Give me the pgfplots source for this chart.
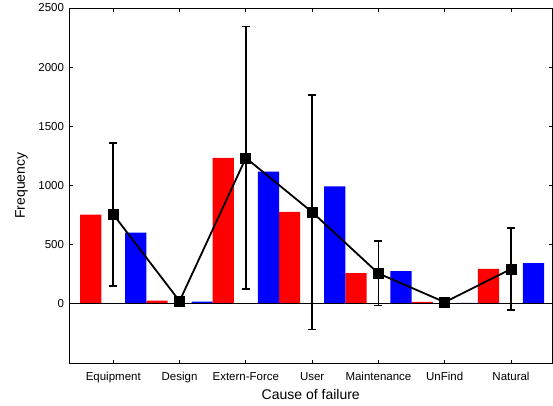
\documentclass[border=0pt]{standalone}
\usepackage{pgfplots}
\pgfplotsset{compat=1.18}
\usepackage{pgfplotstable}
\usepackage{fontspec}
\setmainfont{Liberation Sans}

\pgfplotstableread{
x red blue mean err
1 754 602 756 605
2 28 18 23 8
3 1233 1117 1233 1110
4 777 993 775 992
5 260 277 257 272
6 17 8 14 4
7 296 344 294 347
}\datatab

\begin{document}
\begin{tikzpicture}
\begin{axis}[
  at={(0,0)}, anchor=south west,
  scale only axis,
  width=483.5pt, height=355pt,
  xmin=0.332, xmax=7.626,
  ymin=-500, ymax=2500,
  xtick={1,2,3,4,5,6,7},
  xticklabels={Equipment,Design,Extern-Force,User,Maintenance,UnFind,Natural},
  ytick={0,500,1000,1500,2000,2500},
  tick align=inside,
  major tick length=3.5pt,
  tick style={black, line width=0.8pt},
  axis line style={black, line width=1pt},
  /pgf/number format/assume math mode=true,
  /pgf/number format/1000 sep={},
  ticklabel style={font=\fontsize{11.5}{13}\selectfont},
  xticklabel style={anchor=base, yshift=-17pt},
  yticklabel style={xshift=-1.5pt},
  xlabel={Cause of failure},
  ylabel={Frequency},
  label style={font=\fontsize{14}{16}\selectfont},
  xlabel style={at={(axis description cs:0.5,-0.1014)}, anchor=base, inner sep=0pt},
  ylabel style={at={(axis description cs:-0.0848,0.5)}, anchor=south, inner sep=0pt},
]
\addplot[ybar, bar width=0.32, bar shift=-0.34, fill=red, draw=none] table[x=x, y=red] {\datatab};
\addplot[ybar, bar width=0.32, bar shift=0.34, fill=blue, draw=none] table[x=x, y=blue] {\datatab};
\addplot[black, line width=1pt, forget plot] coordinates {(0.332,0) (7.626,0)};
\addplot[black, line width=1.8pt, mark=square*, mark size=5pt,
  mark options={solid, fill=black, line width=0.8pt},
  error bars/.cd, y dir=both, y explicit,
  error mark=|,
  error bar style={black, line width=1.8pt},
  error mark options={black, line width=1.6pt, mark size=4pt}]
  table[x=x, y=mean, y error=err] {\datatab};
\end{axis}
\pgfresetboundingbox
\path (-69pt,-42pt) rectangle (484pt,363pt);
\end{tikzpicture}
\end{document}
